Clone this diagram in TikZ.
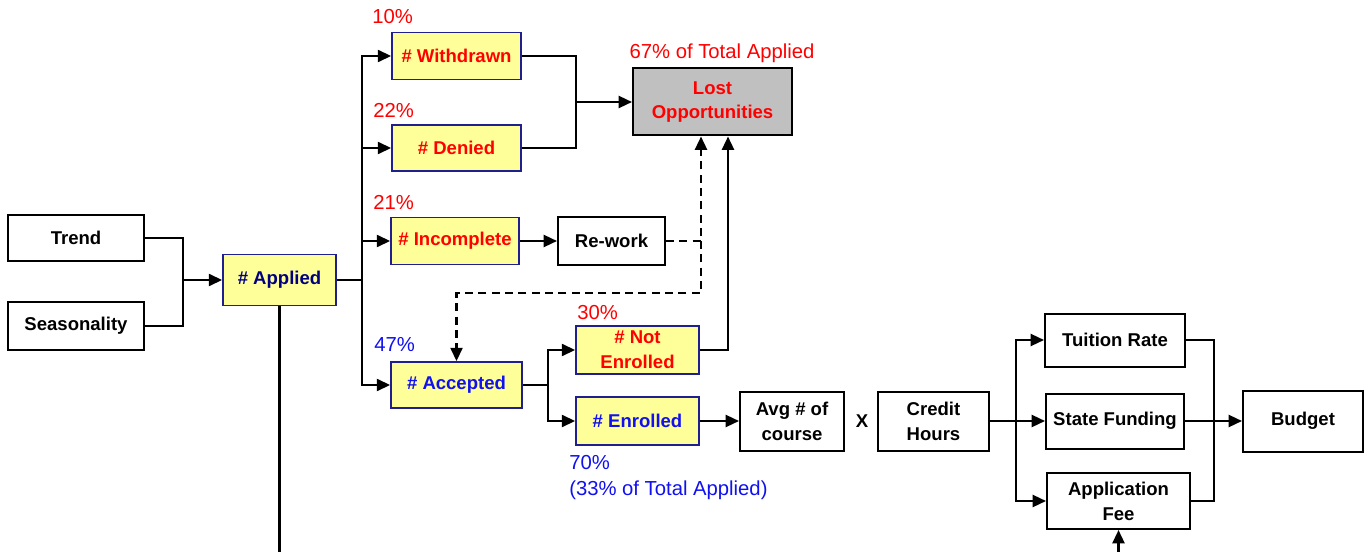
\documentclass[tikz,border=0pt]{standalone}
\usepackage{fontspec}
\setmainfont{Liberation Sans}
\usetikzlibrary{arrows.meta,calc}
\definecolor{boxyellow}{HTML}{FFFF99}
\definecolor{boxnavy}{HTML}{1F1F8F}
\definecolor{txtnavy}{HTML}{000080}
\definecolor{txtblue}{HTML}{1010F0}
\definecolor{txtred}{HTML}{FF0000}
\definecolor{lostgray}{HTML}{C0C0C0}
\tikzset{
  box/.style={draw=black, line width=1.5pt, fill=white, inner sep=0pt, align=center,
    font=\fontsize{13.9}{18.6}\selectfont\bfseries},
  ybox/.style={box, fill=boxyellow, draw=boxnavy, line width=1.3pt},
  sz/.style 2 args={minimum width=#1*0.75pt, minimum height=#2*0.75pt},
  pct/.style={font=\fontsize{15.2}{17}\selectfont, inner sep=0pt},
  arr/.style={line width=1.7pt, -{Triangle[length=10pt,width=9pt]}},
  ln/.style={line width=1.7pt},
}
\begin{document}
\begin{tikzpicture}[x=0.75pt,y=-0.75pt]
\useasboundingbox (0,0) rectangle (1369,552);
% nodes
\node[box,sz={136}{46}] (trend) at (76,238) {Trend};
\node[box,sz={136}{48}] (seas) at (76,326) {Seasonality};
\node[ybox,sz={113}{51},text=txtnavy] (applied) at (279.5,280) {\# Applied};
\node[ybox,sz={129}{47},text=txtred] (withdrawn) at (456.5,56) {\# Withdrawn};
\node[ybox,sz={129}{46},text=txtred] (denied) at (456.5,148) {\# Denied};
\node[ybox,sz={128}{47},text=txtred] (incomplete) at (455,241) {\# Incomplete};
\node[box,sz={107}{48}] (rework) at (611.5,241) {Re-work};
\node[box,sz={159}{67},fill=lostgray,text=txtred] (lost) at (712.5,102) {Lost\\Opportunities};
\node[ybox,sz={131}{46},text=txtblue] (accepted) at (456.5,385) {\# Accepted};
\node[ybox,sz={123}{48},text=txtred] (notenr) at (637.5,350) {\# Not\\Enrolled};
\node[ybox,sz={123}{48},text=txtblue] (enr) at (637.5,421) {\# Enrolled};
\node[box,sz={104}{59}] (avg) at (792,421) {Avg \# of\\course};
\node[inner sep=0pt,font=\fontsize{13.9}{16.5}\selectfont\bfseries] (x) at (862,421) {X};
\node[box,sz={111}{59}] (credit) at (933.5,421) {Credit\\Hours};
\node[box,sz={140}{53}] (tuition) at (1115,340) {Tuition Rate};
\node[box,sz={138}{55}] (statef) at (1115,421) {State Funding};
\node[box,sz={143}{56}] (appfee) at (1118.5,501) {Application\\Fee};
\node[box,sz={120}{61}] (budget) at (1303,421) {Budget};
% labels
\node[pct,text=txtred,anchor=west] (p10) at (372,17) {10\%};
\node[pct,text=txtred,anchor=west] (p22) at (373,110) {22\%};
\node[pct,text=txtred,anchor=west] (p21) at (373,202) {21\%};
\node[pct,text=txtred] (p67) at (722,53) {67\% of Total Applied};
\node[pct,text=txtblue,anchor=west] (p47) at (374,345) {47\%};
\node[pct,text=txtred,anchor=west] (p30) at (577,313) {30\%};
\node[pct,text=txtblue,anchor=west] (p70) at (569,463) {70\%};
\node[pct,text=txtblue,anchor=west] (p33) at (569,490) {(33\% of Total Applied)};
% junctions
\coordinate (j1) at (183,280);
\coordinate (j2) at (362,280);
\coordinate (j3) at (576,102);
\coordinate (d1) at (701,241);
\coordinate (j4) at (548,385);
\coordinate (j5) at (1016,421);
\coordinate (j6) at (1214,421);
\coordinate (b1) at (1118.5,552);
\coordinate (b2) at (279.5,552);
% connectors
\draw[ln] (trend.east) -| (j1) |- (seas.east);
\draw[arr] (j1) -- (applied.west);
\draw[ln] (applied.east) -- (j2);
\draw[arr] (j2) |- (withdrawn.west);
\draw[arr] (j2) |- (denied.west);
\draw[arr] (j2) |- (incomplete.west);
\draw[arr] (j2) |- (accepted.west);
\draw[ln] (withdrawn.east) -| (j3) |- (denied.east);
\draw[arr] (j3) -- (lost.west);
\draw[arr] (incomplete.east) -- (rework.west);
\draw[arr,dash pattern=on 6pt off 4pt] (rework.east) -| ($(lost.south)+(-11.5,0)$);
\draw[arr,dash pattern=on 6pt off 4pt] (d1) -- (701,293) -| (accepted.north);
\draw[ln] (accepted.east) -- (j4);
\draw[arr] (j4) |- (notenr.west);
\draw[arr] (j4) |- (enr.west);
\draw[arr] (notenr.east) -| ($(lost.south)+(15.5,0)$);
\draw[arr] (enr.east) -- (avg.west);
\draw[ln] (credit.east) -- (j5);
\draw[arr] (j5) |- (tuition.west);
\draw[arr] (j5) -- (statef.west);
\draw[arr] (j5) |- (appfee.west);
\draw[ln] (tuition.east) -| (j6) |- (appfee.east);
\draw[arr] (statef.east) -- (budget.west);
\draw[arr] (b1) -- (appfee.south);
\draw[ln] (applied.south) -- (b2);
\end{tikzpicture}
\end{document}
